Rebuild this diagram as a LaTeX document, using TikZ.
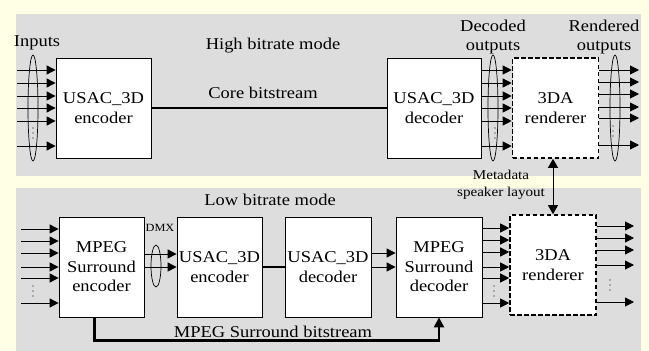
\documentclass[tikz,border=0pt]{standalone}
\usepackage{fontspec}
\setmainfont{Liberation Serif}[FakeStretch=1.12]
\usepackage{tikz}
\usetikzlibrary{arrows.meta,calc,shapes.geometric}
\definecolor{paneyellow}{RGB}{255,255,230}
\definecolor{panegray}{RGB}{221,221,221}
\newcommand{\chanfan}[3]{%
  \foreach \dy in {#3}{%
    \path ($(#1)+(0,\dy)$) coordinate (fs);
    \draw[chan] (fs) -- (fs -| #2);}
}
\newcommand{\chanbundle}[3]{%
  \node[bundle,minimum height=#3] (#1) at (#2) {};
}
\newcommand{\chandots}[2]{%
  \foreach \dy in {-5,0,5}
    \fill ($(#1,#2)+(0,\dy)$) circle (.6pt);
}

\begin{document}
\begin{tikzpicture}[x=1pt,y=-1pt,font=\fontsize{16.5}{19.5}\selectfont,
    blk/.style={draw,fill=white,line width=.8pt,minimum width=#1,minimum height=100pt,
      inner sep=1pt,align=center},
    rend/.style={blk=86pt,line width=1.6pt,dash pattern=on 4.5pt off 2.5pt},
    chan/.style={line width=1pt,-{Triangle[length=9pt,width=9pt]}},
    bits/.style={line width=2.2pt},
    bundle/.style={draw,ellipse,line width=.7pt,minimum width=10pt,inner sep=0pt},
    small/.style={font=\fontsize{13.5}{17}\selectfont}]
  \fill[paneyellow] (0,0) rectangle (649,351);
  \useasboundingbox (0,0) rectangle (649,351);
  \fill[panegray] (16,14) rectangle (641,176);
  \fill[panegray] (16,188) rectangle (641,351);

  % high bitrate mode
  \node[blk=95pt] (enc1) at (103.5,108) {USAC\_3D\\encoder};
  \node[blk=94pt] (dec1) at (434,108) {USAC\_3D\\decoder};
  \node[rend] (ren1) at (555.5,108) {3DA\\renderer};
  \coordinate (in1) at (17,108);
  \coordinate (out1) at (639,108);
  \chanbundle{bin1}{33,108}{106pt}
  \chanbundle{bdec1}{493,108}{106pt}
  \chanbundle{bren1}{615,108}{106pt}
  \chanfan{in1}{enc1.west}{-38,-25,-12,0,13,38}
  \chanfan{dec1.east}{ren1.west}{-38,-25,-12,0,13,38}
  \chanfan{ren1.east}{out1}{-38,-26,-14,-1,10,37}
  \chandots{33}{133}
  \chandots{495}{133}
  \chandots{613}{131}
  \draw[bits] (enc1.east) -- (dec1.west);
  \node (lblinputs) at (37,43) {Inputs};
  \node (lblhigh) at (273,46) {High bitrate mode};
  \node (lblcore) at (263,93) {Core bitstream};
  \node[align=center] (lbldecout) at (493,37) {Decoded\\outputs};
  \node[align=center] (lblrenout) at (604,37) {Rendered\\outputs};

  % low bitrate mode
  \node[blk=85pt] (mpsenc) at (101.5,267) {MPEG\\Surround\\encoder};
  \node[blk=85pt] (enc2) at (219.5,267) {USAC\_3D\\encoder};
  \node[blk=86pt] (dec2) at (328,267) {USAC\_3D\\decoder};
  \node[blk=86pt] (mpsdec) at (439,267) {MPEG\\Surround\\decoder};
  \node[rend] (ren2) at (553,265) {3DA\\renderer};
  \coordinate (in2) at (21,267);
  \coordinate (out2) at (634,265);
  \chanbundle{bdmx}{156,266}{42pt}
  \chanfan{in2}{mpsenc.west}{-38,-26,-14,0,11,36}
  \chanfan{mpsenc.east}{enc2.west}{-13,0}
  \chanfan{dec2.east}{mpsdec.west}{-14,0}
  \chanfan{mpsdec.east}{ren2.west}{-39,-27,-15,0,11,36}
  \chanfan{ren2.east}{out2}{-39,-27,-15,0,37}
  \chandots{33}{291}
  \chandots{494}{291}
  \chandots{610}{285}
  \draw[bits] (enc2.east) -- (dec2.west);
  \draw[bits,-{Triangle[length=10pt,width=10pt]}] ([xshift=-7pt]mpsenc.south)
    -- ++(0,23) -| (mpsdec.south);
  \node (lbllow) at (270,200) {Low bitrate mode};
  \node[font=\fontsize{11}{11}\selectfont] (lbldmx) at (160,228) {DMX};
  \node (lblbits) at (273,332) {MPEG Surround bitstream};

  % renderer control
  \draw[line width=1pt,{Triangle[length=9pt,width=10pt]}-{Triangle[length=9pt,width=10pt]}]
    (ren2.north |- ren1.south) -- (ren2.north);
  \node[small,align=center] (lblmeta) at (501,185) {Metadata\\speaker layout};
\end{tikzpicture}
\end{document}
